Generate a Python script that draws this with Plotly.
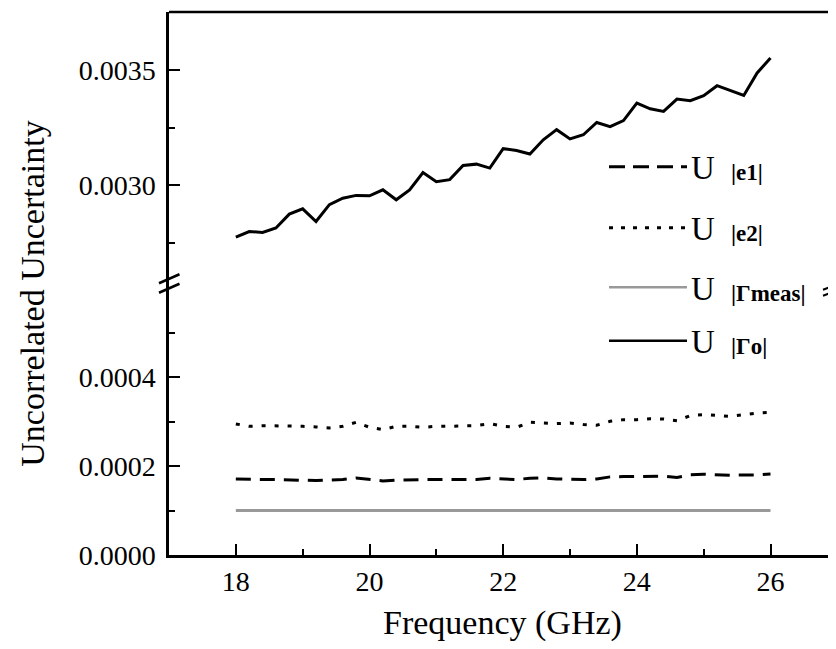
import plotly.graph_objects as go

# ---------------- data ----------------
freq = [18.0 + 0.2 * i for i in range(41)]

u_gamma_o = [0.002777, 0.002801, 0.002797, 0.002816, 0.002876, 0.002899, 0.002844, 0.002917,
             0.002945, 0.002957, 0.002955, 0.002981, 0.002938, 0.002981, 0.003056, 0.003016,
             0.003025, 0.003086, 0.003092, 0.003075, 0.003159, 0.003151, 0.003136, 0.003197,
             0.003241, 0.003201, 0.003219, 0.003272, 0.003254, 0.003280, 0.003356, 0.003331,
             0.003320, 0.003373, 0.003366, 0.003388, 0.003431, 0.003409, 0.003389, 0.003486,
             0.003551]

u_e1 = [0.0001712, 0.0001697, 0.0001697, 0.0001697, 0.0001697, 0.0001682, 0.0001674, 0.0001682,
        0.0001697, 0.0001734, 0.0001697, 0.0001667, 0.0001682, 0.0001697, 0.0001697, 0.0001697,
        0.0001697, 0.0001689, 0.0001697, 0.0001727, 0.0001712, 0.0001697, 0.0001727, 0.0001734,
        0.0001712, 0.0001697, 0.0001697, 0.0001712, 0.0001757, 0.0001764, 0.0001764, 0.0001772,
        0.0001772, 0.0001742, 0.0001802, 0.0001816, 0.0001802, 0.0001794, 0.0001802, 0.0001802,
        0.0001824]

u_e2 = [0.0002948, 0.0002895, 0.0002910, 0.0002910, 0.0002895, 0.0002895, 0.0002880, 0.0002858,
        0.0002895, 0.0002985, 0.0002873, 0.0002820, 0.0002895, 0.0002895, 0.0002873, 0.0002895,
        0.0002895, 0.0002910, 0.0002910, 0.0002955, 0.0002895, 0.0002873, 0.0002985, 0.0002970,
        0.0002955, 0.0002970, 0.0002933, 0.0002918, 0.0003007, 0.0003045, 0.0003045, 0.0003067,
        0.0003060, 0.0003022, 0.0003135, 0.0003157, 0.0003135, 0.0003120, 0.0003157, 0.0003195,
        0.0003210]

u_gamma_meas = [0.0001] * 41

x_ticks = [18, 20, 22, 24, 26]
x_minor = [19, 21, 23, 25]
y_low_ticks = [0.0, 0.0002, 0.0004]
y_low_minor = [0.0001, 0.0003, 0.0005]
y_up_ticks = [0.0030, 0.0035]
y_up_minor = [0.00275, 0.00325]

legend_labels = ["|e1|", "|e2|", "|\u0393meas|", "|\u0393o|"]

# ---------------- figure ----------------
OFF = 8  # page body margin of the html output
W, H = 836 - OFF, 649 - OFF
L, R, T, B = 169 - OFF, 0, 12 - OFF, 93.5
PW, PH = W - L - R, H - T - B
BREAK_PX = 283
BOTTOM_PX = 555.5
split = (BOTTOM_PX - BREAK_PX) / PH

FONT = "Liberation Serif"


def px_x(px):
    return (px - OFF - L) / PW


def px_y(py):
    return (BOTTOM_PX - py) / PH


fig = go.Figure()

fig.add_trace(go.Scatter(x=freq, y=u_gamma_meas, mode="lines", yaxis="y",
                         line=dict(color="#999999", width=3)))
fig.add_trace(go.Scatter(x=freq, y=u_e1, mode="lines", yaxis="y",
                         line=dict(color="black", width=3, dash="15px,9px")))
fig.add_trace(go.Scatter(x=freq, y=u_e2, mode="lines", yaxis="y",
                         line=dict(color="black", width=3, dash="4px,9px")))
fig.add_trace(go.Scatter(x=freq, y=u_gamma_o, mode="lines", yaxis="y2",
                         line=dict(color="black", width=3)))

ytickfont = dict(family=FONT, size=28, color="black")
xtickfont = dict(family=FONT, size=28, color="black")

fig.update_layout(
    width=W, height=H,
    margin=dict(l=L, r=R, t=T, b=B),
    paper_bgcolor="white", plot_bgcolor="white",
    showlegend=False,
    xaxis=dict(range=[17, 26.98], tickvals=x_ticks, ticks="inside", ticklen=11,
               tickwidth=2.2, tickcolor="black", showline=True, linecolor="black",
               linewidth=2.5, showgrid=False, zeroline=False, tickfont=xtickfont,
               ticklabelstandoff=0,
               minor=dict(tickvals=x_minor, ticks="inside", ticklen=6, tickwidth=2.2,
                          tickcolor="black", showgrid=False),
               anchor="y"),
    yaxis=dict(domain=[0, split], range=[0, 0.0006124], tickvals=y_low_ticks,
               tickformat=".4f", ticks="inside", ticklen=11, tickwidth=2.2,
               tickcolor="black", showline=True, linecolor="black", linewidth=2.5,
               showgrid=False, zeroline=False, tickfont=ytickfont, ticklabelstandoff=5,
               minor=dict(tickvals=y_low_minor, ticks="inside", ticklen=6, tickwidth=2.2,
                          tickcolor="black", showgrid=False),
               anchor="x"),
    yaxis2=dict(domain=[split, 1], range=[0.0025795, 0.0037494], tickvals=y_up_ticks,
                tickformat=".4f", ticks="inside", ticklen=11, tickwidth=2.2,
                tickcolor="black", showline=True, linecolor="black", linewidth=2.5,
                showgrid=False, zeroline=False, tickfont=ytickfont, ticklabelstandoff=5,
                minor=dict(tickvals=y_up_minor, ticks="inside", ticklen=6, tickwidth=2.2,
                           tickcolor="black", showgrid=False),
                anchor="x"),
)

shapes = []
# top border
shapes.append(dict(type="line", xref="paper", yref="paper", x0=0, x1=1.01, y0=1, y1=1,
                   line=dict(color="black", width=2.5)))
# left axis break marks
for dy in (0, 9.5):
    shapes.append(dict(type="line", xref="paper", yref="paper",
                       x0=px_x(159), y0=px_y(283.5 + dy), x1=px_x(179.5), y1=px_y(274.5 + dy),
                       line=dict(color="black", width=2.5)))
# right axis break marks (partially visible)
for dy in (0, 6):
    shapes.append(dict(type="line", xref="paper", yref="paper",
                       x0=px_x(823), y0=px_y(290 + dy), x1=px_x(842), y1=px_y(283 + dy),
                       line=dict(color="black", width=2)))

# manual legend samples
leg_rows = [167, 228, 287.5, 341]
leg_styles = [dict(color="black", width=3, dash="16px,8px"),
              dict(color="black", width=3, dash="4px,8px"),
              dict(color="#999999", width=2.5),
              dict(color="black", width=2.5)]
for ry, st in zip(leg_rows, leg_styles):
    shapes.append(dict(type="line", xref="paper", yref="paper",
                       x0=px_x(609), x1=px_x(687), y0=px_y(ry), y1=px_y(ry), line=st))

fig.update_layout(shapes=shapes)

annotations = []
for ry, lab in zip(leg_rows, legend_labels):
    annotations.append(dict(x=px_x(689), y=px_y(ry + 1.5), xref="paper", yref="paper",
                            text="U", showarrow=False, xanchor="left", yanchor="middle",
                            font=dict(family=FONT, size=33, color="black")))
    annotations.append(dict(x=px_x(729), y=px_y(ry + 6), xref="paper", yref="paper",
                            text="<b>" + lab + "</b>", showarrow=False, xanchor="left",
                            yanchor="middle", font=dict(family=FONT, size=23, color="black")))

# axis titles
annotations.append(dict(x=px_x(33), y=px_y(294), xref="paper", yref="paper",
                        text="Uncorrelated Uncertainty", textangle=-90, showarrow=False,
                        xanchor="center", yanchor="middle",
                        font=dict(family=FONT, size=34, color="black")))
annotations.append(dict(x=px_x(502), y=px_y(624), xref="paper", yref="paper",
                        text="Frequency (GHz)", showarrow=False,
                        xanchor="center", yanchor="middle",
                        font=dict(family=FONT, size=34, color="black")))

fig.update_layout(annotations=annotations)

fig.write_html("out.html")
